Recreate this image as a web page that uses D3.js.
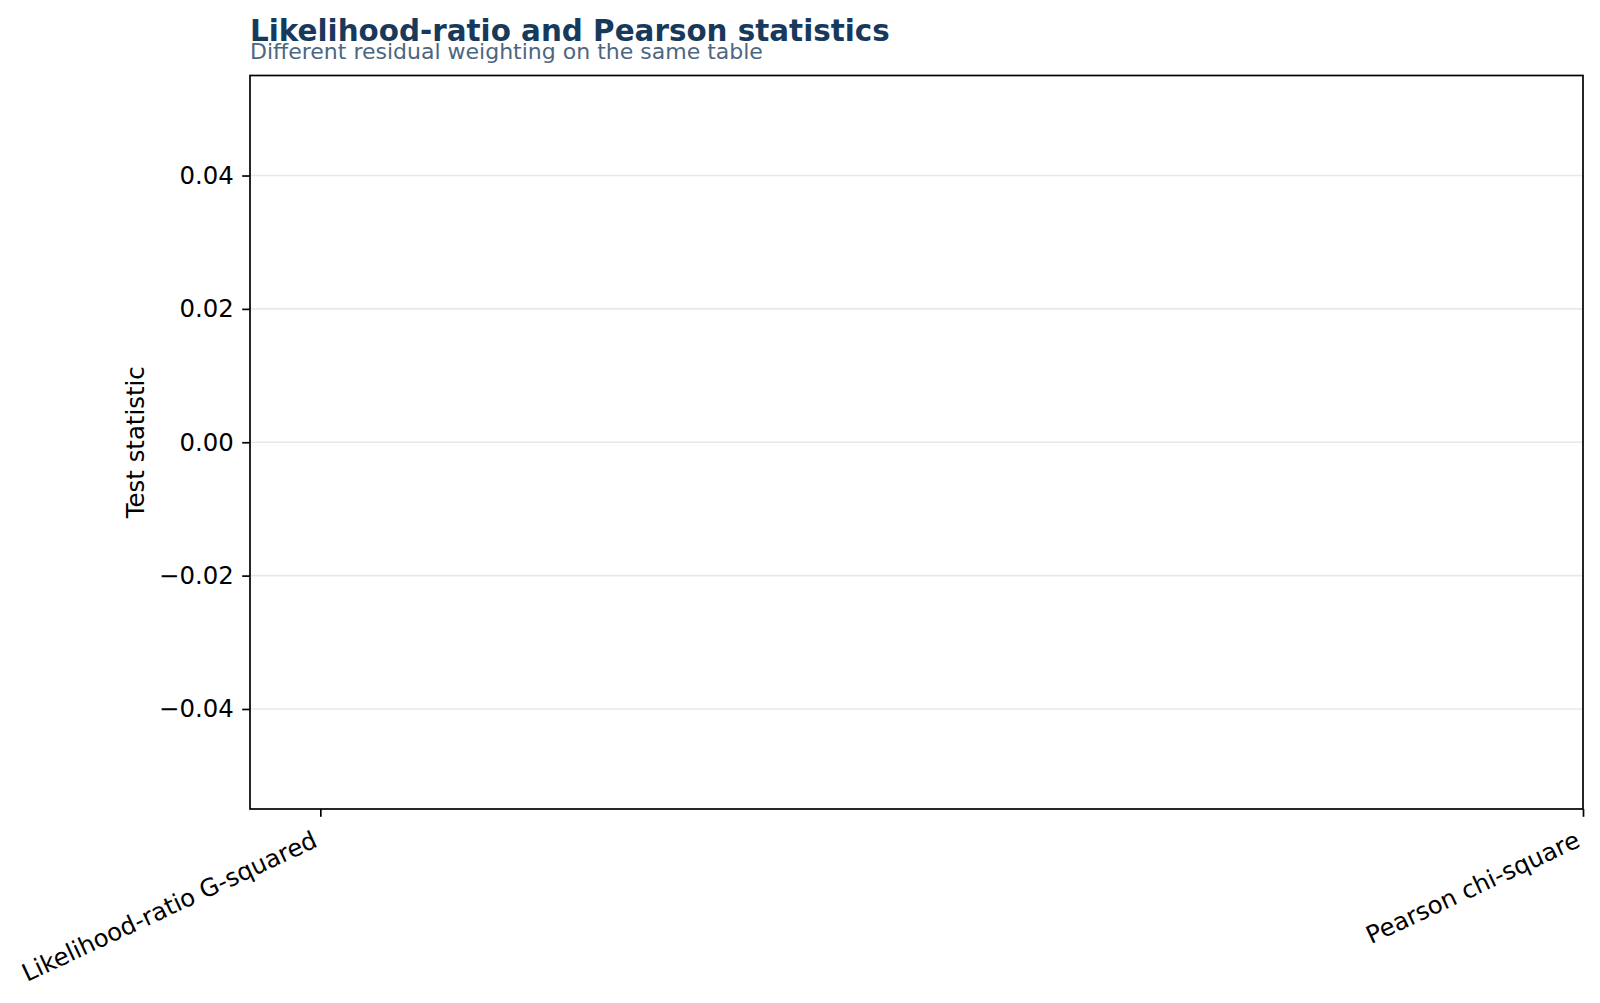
<!DOCTYPE html>
<html>
<head>
<meta charset="utf-8">
<script src="https://cdn.jsdelivr.net/npm/d3@7"></script>
<style>
  body { margin: 0; background: #fff; }
  svg { display: block; font-family: "DejaVu Sans", sans-serif; }
</style>
</head>
<body>
<div class="center"></div>
<script>
// chart data
const categories = ["Likelihood-ratio G-squared", "Pearson chi-square"];
const statValues = [0, 0];
const yTicks = [-0.04, -0.02, 0.00, 0.02, 0.04];

const W = 1600, H = 1003;
const margin = {top: 75.5, right: 17, bottom: 194, left: 250};
const width = W - margin.left - margin.right;
const height = H - margin.top - margin.bottom;

const svg = d3.select(".center").append("svg")
    .attr("width", W)
    .attr("height", H);

const g = svg.append("g")
    .attr("transform", `translate(${margin.left},${margin.top})`);

// x is positional (category index), y is the statistic
const xScale = d3.scaleLinear().domain([-0.0557, 1.0]).range([0, width]);
const yScale = d3.scaleLinear().domain([-0.055, 0.055]).range([height, 0]);

// grid lines
g.append("g")
  .selectAll("line")
  .data(yTicks)
  .enter().append("line")
  .attr("x1", 0).attr("x2", width)
  .attr("y1", d => yScale(d)).attr("y2", d => yScale(d))
  .attr("stroke", "#e8e8e8")
  .attr("stroke-width", 1.6);

// bars (zero height)
g.selectAll(".bar")
  .data(statValues)
  .enter().append("rect")
  .attr("class", "bar")
  .attr("x", (d, i) => xScale(i) - 40)
  .attr("width", 80)
  .attr("y", d => yScale(Math.max(0, d)))
  .attr("height", d => Math.abs(yScale(d) - yScale(0)))
  .attr("fill", "#2f6690");

// y axis
const yAxis = d3.axisLeft(yScale)
    .tickValues(yTicks)
    .tickSize(7.8)
    .tickPadding(8.5)
    .tickFormat(d => d3.format(".2f")(d).replace("-", "\u2212"));
const ya = g.append("g").call(yAxis);
ya.select(".domain").remove();
ya.selectAll(".tick line").attr("stroke", "#000").attr("stroke-width", 1.7);
ya.selectAll(".tick text")
  .attr("fill", "#000")
  .style("font-size", "24.4px")
  .style("font-family", "DejaVu Sans");

// x axis
const xAxis = d3.axisBottom(xScale)
    .tickValues(categories.map((d, i) => i))
    .tickSize(7.8)
    .tickFormat(i => categories[i]);
const xa = g.append("g")
    .attr("transform", `translate(0,${height})`)
    .call(xAxis);
xa.select(".domain").remove();
xa.selectAll(".tick line").attr("stroke", "#000").attr("stroke-width", 1.7);
xa.selectAll(".tick text")
  .attr("fill", "#000")
  .style("font-size", "24.4px")
  .style("font-family", "DejaVu Sans")
  .style("text-anchor", "end")
  .attr("dy", null)
  .attr("y", 0)
  .attr("transform", "translate(-2,37) rotate(-25)");

// frame
g.append("rect")
  .attr("x", 0).attr("y", 0)
  .attr("width", width).attr("height", height)
  .attr("fill", "none")
  .attr("stroke", "#000")
  .attr("stroke-width", 1.7);

// y axis title
svg.append("text")
   .attr("transform", `translate(144,${margin.top + height / 2}) rotate(-90)`)
   .style("text-anchor", "middle")
   .style("font-size", "24.4px")
   .attr("fill", "#000")
   .text("Test statistic");

// titles
svg.append("text")
   .attr("x", margin.left)
   .attr("y", 41)
   .style("font-size", "29.4px")
   .style("font-weight", "700")
   .attr("fill", "#173a5c")
   .text("Likelihood-ratio and Pearson statistics");

svg.append("text")
   .attr("x", margin.left)
   .attr("y", 59)
   .style("font-size", "22px")
   .attr("fill", "#4d6680")
   .text("Different residual weighting on the same table");
</script>
</body>
</html>
